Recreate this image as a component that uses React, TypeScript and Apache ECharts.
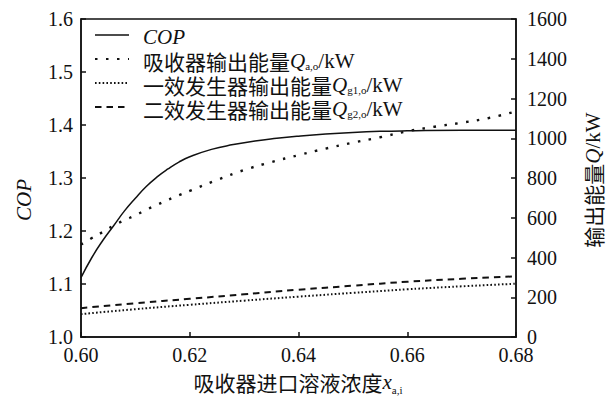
import React, { useEffect, useRef } from "react";
import * as echarts from "echarts";

const xCop = [0.600, 0.602, 0.604, 0.606, 0.608, 0.610, 0.612, 0.614, 0.616, 0.618, 0.620, 0.624, 0.628, 0.632, 0.636, 0.640, 0.645, 0.650, 0.655, 0.660, 0.670, 0.680];
const cop = [1.112, 1.150, 1.182, 1.210, 1.238, 1.262, 1.284, 1.302, 1.317, 1.330, 1.340, 1.354, 1.363, 1.370, 1.375, 1.379, 1.383, 1.386, 1.388, 1.389, 1.390, 1.390];

const xQa = [0.600, 0.602, 0.604, 0.606, 0.608, 0.610, 0.612, 0.614, 0.616, 0.618, 0.620, 0.625, 0.630, 0.635, 0.640, 0.645, 0.650, 0.655, 0.660, 0.665, 0.670, 0.675, 0.680];
const qa = [465, 498, 528, 560, 588, 612, 640, 665, 690, 713, 735, 790, 840, 880, 915, 948, 978, 1005, 1035, 1058, 1078, 1102, 1135];

const xQg = [0.60, 0.61, 0.62, 0.63, 0.64, 0.65, 0.66, 0.67, 0.68];
const qg1 = [115, 140, 162, 183, 203, 222, 240, 255, 268];
const qg2 = [145, 170, 192, 215, 238, 258, 278, 293, 305];

const legendCn = ["", "吸收器输出能量", "一效发生器输出能量", "二效发生器输出能量"];
const legendSub = ["", "a,o", "g1,o", "g2,o"];

const SERIF = "'Liberation Serif', 'Times New Roman', serif";
const CJK = "'Noto Sans CJK SC', sans-serif";
const INK = "#111";

const dashQa = [2.5, 8.5];
const dashQg1 = [1.6, 2.2];
const dashQg2 = [6.5, 5];

const pairs = (xs: number[], ys: number[]) => xs.map((x, i) => [x, ys[i]]);

export default function App() {
  const ref = useRef<HTMLDivElement>(null);
  useEffect(() => {
    if (!ref.current) return;
    const chart = echarts.init(ref.current, null, { renderer: "svg" });
    const richBase = {
      cn: { fontFamily: CJK, fontSize: 21, lineHeight: 20, fill: INK },
      q: { fontFamily: SERIF, fontSize: 21, fontStyle: "italic", lineHeight: 20, fill: INK },
      u: { fontFamily: SERIF, fontSize: 21, lineHeight: 20, fill: INK },
      s: { fontFamily: SERIF, fontSize: 11, lineHeight: 11, padding: [9, 0, 0, 0], fill: INK },
      s2: { fontFamily: SERIF, fontSize: 11, lineHeight: 11, padding: [16, 0, 0, 0], fill: INK },
    };
    const rowY = [37, 61, 85, 109];
    const dashes: (number[] | null)[] = [null, dashQa, dashQg1, dashQg2];
    const legendGraphics: any[] = [];
    rowY.forEach((y, i) => {
      legendGraphics.push({
        type: "line",
        shape: { x1: 95, y1: y - 2, x2: 129, y2: y - 2 },
        style: { stroke: INK, lineWidth: i === 0 ? 1.5 : 2.2, lineDash: dashes[i] || undefined },
      });
      const text = i === 0 ? "{q|COP}" : `{cn|${legendCn[i]}}{q|Q}{s|${legendSub[i]}}{u|/kW}`;
      legendGraphics.push({
        type: "text",
        x: 143,
        y,
        style: { text, rich: richBase, verticalAlign: "middle", align: "left", fill: INK },
      });
    });

    const axisCommon = {
      axisLine: { show: true, lineStyle: { color: INK, width: 1.5 } },
      axisTick: { show: true, inside: true, length: 5, lineStyle: { color: INK, width: 1.5 } },
      splitLine: { show: false },
    };
    const labelStyle = { color: INK, fontFamily: SERIF, fontSize: 20 };

    chart.setOption({
      animation: false,
      backgroundColor: "#fff",
      grid: { left: 81, right: 95, top: 19, bottom: 62, show: true, borderColor: INK, borderWidth: 1.5, backgroundColor: "transparent" },
      xAxis: {
        type: "value", min: 0.6, max: 0.68, interval: 0.02,
        ...axisCommon,
        axisLabel: { ...labelStyle, margin: 8, formatter: (v: number) => v.toFixed(2) },
      },
      yAxis: [
        {
          type: "value", min: 1.0, max: 1.6, interval: 0.1, position: "left",
          ...axisCommon,
          axisLabel: { ...labelStyle, margin: 8, formatter: (v: number) => v.toFixed(1) },
        },
        {
          type: "value", min: 0, max: 1600, interval: 200, position: "right",
          ...axisCommon,
          axisLabel: { ...labelStyle, margin: 11, formatter: (v: number) => String(Math.round(v)) },
        },
      ],
      series: [
        { name: "COP", type: "line", yAxisIndex: 0, data: pairs(xCop, cop), smooth: true, showSymbol: false, lineStyle: { color: INK, width: 1.5 } },
        { name: "Qa", type: "line", yAxisIndex: 1, data: pairs(xQa, qa), smooth: true, showSymbol: false, lineStyle: { color: INK, width: 2.4, type: dashQa } },
        { name: "Qg1", type: "line", yAxisIndex: 1, data: pairs(xQg, qg1), smooth: true, showSymbol: false, lineStyle: { color: INK, width: 2, type: dashQg1 } },
        { name: "Qg2", type: "line", yAxisIndex: 1, data: pairs(xQg, qg2), smooth: true, showSymbol: false, lineStyle: { color: INK, width: 2, type: dashQg2 } },
      ],
      graphic: [
        ...legendGraphics,
        {
          type: "text", x: 24, y: 200, rotation: Math.PI / 2,
          style: { text: "COP", fontFamily: SERIF, fontSize: 21, fontStyle: "italic", fill: INK, align: "center", verticalAlign: "middle" },
        },
        {
          type: "text", x: 593, y: 180, rotation: Math.PI / 2,
          style: { text: "{cn|输出能量}{q|Q}{u|/kW}", rich: richBase, fill: INK, align: "center", verticalAlign: "middle" },
        },
        {
          type: "text", x: 298, y: 382,
          style: { text: "{cn|吸收器进口溶液浓度}{q|x}{s2|a,i}", rich: richBase, fill: INK, align: "center", verticalAlign: "middle" },
        },
      ],
    });
    return () => chart.dispose();
  }, []);
  return <div ref={ref} style={{ width: 611, height: 399, position: "absolute", left: 0, top: 0 }} />;
}
